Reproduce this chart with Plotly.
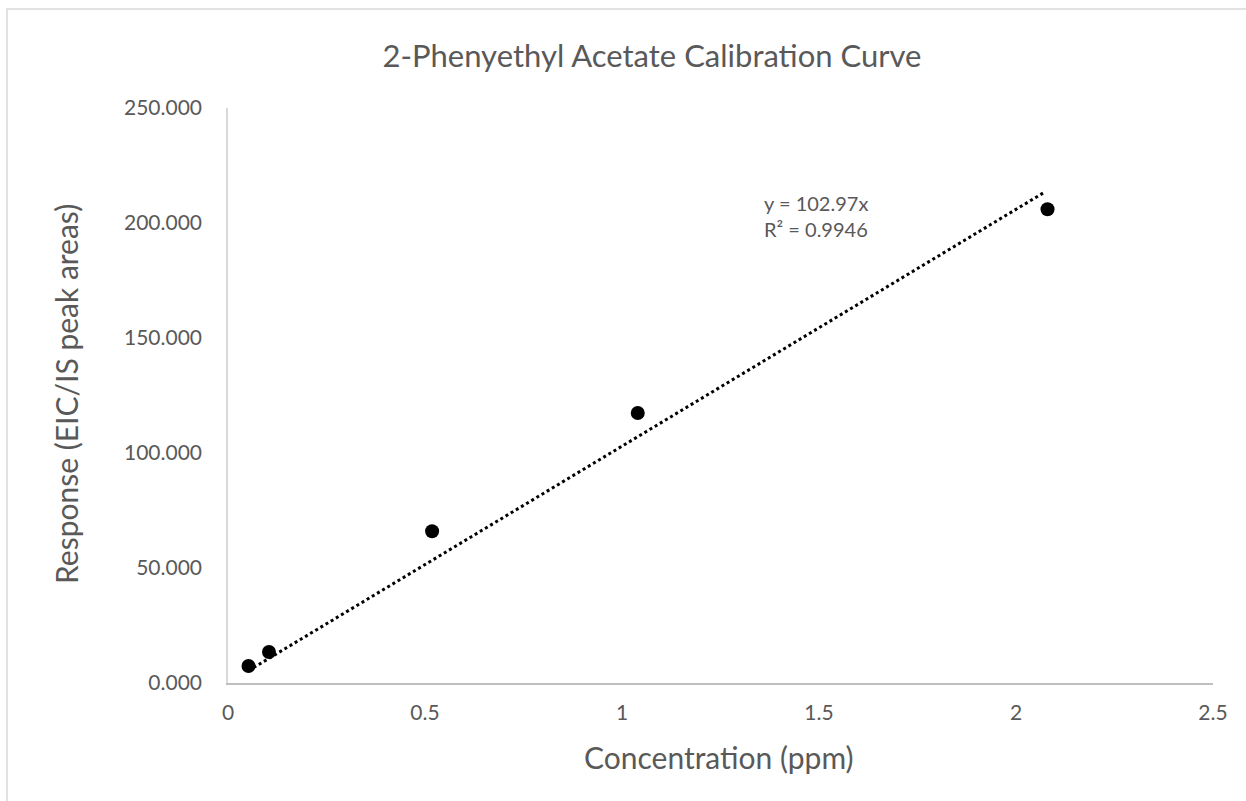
import plotly.graph_objects as go

conc = [0.052, 0.104, 0.518, 1.04, 2.08]
response = [7.4, 13.5, 66.0, 117.4, 206.0]
slope = 102.97
r2 = 0.9946
trend_x = [0.052, 2.07]
trend_y = [slope * v for v in trend_x]

x_ticks = [0, 0.5, 1, 1.5, 2, 2.5]
x_ticklabels = ["0", "0.5", "1", "1.5", "2", "2.5"]
y_ticks = [0, 50, 100, 150, 200, 250]

FONT = "Lato, 'Open Sans', sans-serif"
GREY = "#595959"

L, T, PW, PH = 228, 108, 985, 575

fig = go.Figure()
fig.add_trace(go.Scatter(x=trend_x, y=trend_y, mode="lines",
                         line=dict(color="black", width=3, dash="dot"),
                         showlegend=False, hoverinfo="skip"))
fig.add_trace(go.Scatter(x=conc, y=response, mode="markers",
                         marker=dict(color="black", size=14),
                         showlegend=False))

fig.update_layout(
    width=1246, height=801,
    margin=dict(l=L, r=1246 - L - PW, t=T, b=801 - T - PH),
    paper_bgcolor="white", plot_bgcolor="white",
    font=dict(family=FONT, color=GREY, size=20),
    title=dict(text="2-Phenyethyl Acetate Calibration Curve",
               x=(652 - L)/PW, xref="paper", xanchor="center",
               y=1 - 56/801, yanchor="middle",
               font=dict(family=FONT, size=31, color=GREY)),
    xaxis=dict(range=[0, 2.5], tickvals=x_ticks, ticktext=x_ticklabels,
               showgrid=False, zeroline=False, showline=True,
               linecolor="#bfbfbf", linewidth=1.5, ticks="",
               ticklabelstandoff=10,
               tickfont=dict(size=21, color=GREY)),
    yaxis=dict(range=[0, 250], tickvals=y_ticks, tickformat=".3f",
               showgrid=False, zeroline=False, showline=True,
               linecolor="#d9d9d9", linewidth=1.5, ticks="",
               ticklabelstandoff=20,
               tickfont=dict(size=21, color=GREY)),
    annotations=[
        dict(text=f"y = {slope}x<br>R² = {r2}", xref="paper", yref="paper",
             x=(762 - L)/PW, y=(683 - 189)/PH, xanchor="left", yanchor="top",
             align="left", showarrow=False, font=dict(size=20, color=GREY)),
        dict(text="Concentration (ppm)", xref="paper", yref="paper",
             x=(719 - L)/PW, y=(683 - 757)/PH, xanchor="center", yanchor="middle",
             showarrow=False, font=dict(size=30, color=GREY)),
        dict(text="Response (EIC/IS peak areas)", xref="paper", yref="paper",
             x=(66 - L)/PW, y=(683 - 394)/PH, xanchor="center", yanchor="middle",
             textangle=-90, showarrow=False, font=dict(size=30, color=GREY)),
    ],
    shapes=[dict(type="rect", xref="paper", yref="paper",
                 x0=(7 - L)/PW, x1=1.2, y0=-0.3, y1=(683 - 9)/PH,
                 line=dict(color="#d9d9d9", width=1.5), layer="below")],
)

fig.write_html("out.html", config={"displayModeBar": False},
               post_script="document.body.style.margin='0';")
